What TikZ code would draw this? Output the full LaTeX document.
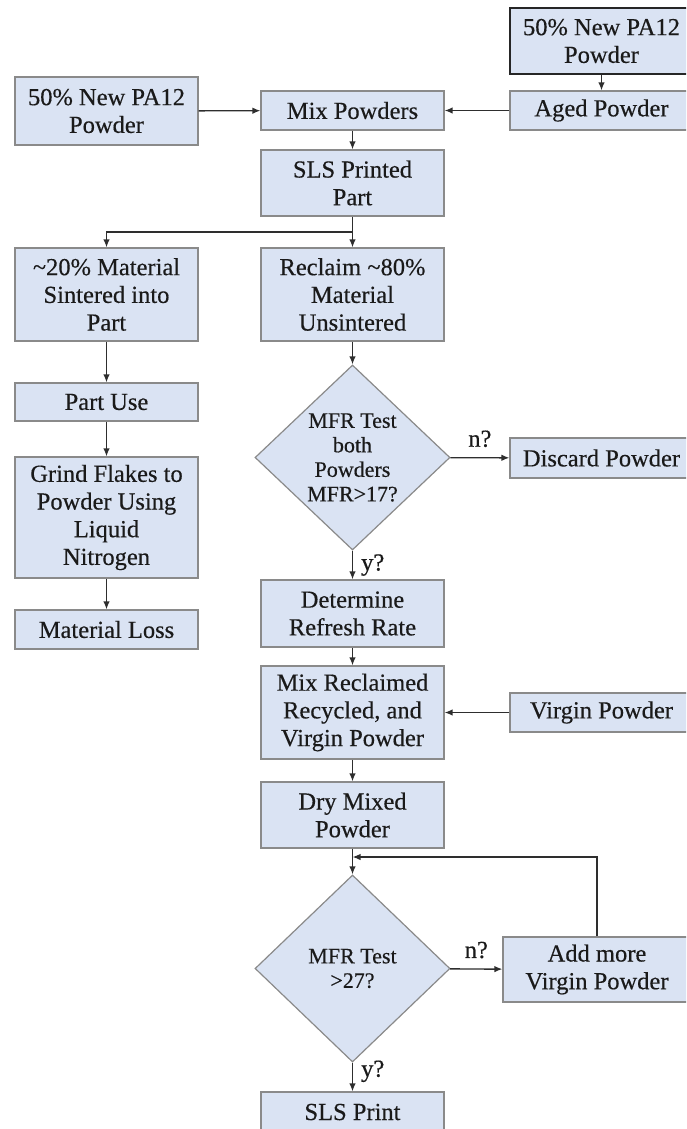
\documentclass[tikz,border=0pt]{standalone}
\usepackage{fontspec}
\setmainfont{Liberation Serif}[FakeBold=0.4]
\usepackage{tikz}
\usetikzlibrary{arrows.meta}
\usetikzlibrary{shapes.geometric}

\definecolor{cajafondo}{HTML}{DAE3F3}
\definecolor{cajaborde}{HTML}{8A8A8A}
\definecolor{flecha}{HTML}{2E2E2E}
\definecolor{texto}{HTML}{1A1A1A}

\tikzset{
  caja/.style={draw=cajaborde, fill=cajafondo, line width=1.2pt, inner sep=0pt, minimum width=183pt, align=center, text=texto, font=\fontsize{24.5}{27.7}\selectfont},
  rombo/.style={diamond, draw=cajaborde, fill=cajafondo, line width=1.2pt, inner sep=0pt, minimum width=195pt, align=center, text=texto, font=\fontsize{22}{24.5}\selectfont},
  flujo/.style={-{Latex[length=8pt,width=6.5pt]}, draw=flecha, line width=1.4pt},
  etiq/.style={text=texto, font=\fontsize{24.5}{27.7}\selectfont, inner sep=2pt}
}

\begin{document}
\begin{tikzpicture}[x=1pt, y=-1pt]
  \useasboundingbox (0,0) rectangle (686,1129);
  \clip (0,0) rectangle (686,1129);
  \fill [white] (0,0) rectangle (686,1129); % fondo
  % fila superior
  \node [caja, minimum height=66pt, draw=black!85] (nuevoder) at (601.5,41) {50\% New PA12\\Powder};
  \node [caja, minimum height=68pt] (nuevoizq) at (106.5,111) {50\% New PA12\\Powder};
  \node [caja, minimum height=39pt] (mezcla) at (352.5,110.5) {Mix Powders};
  \node [caja, minimum height=39pt] (envejecido) at (601.5,110.5) {Aged Powder};
  \node [caja, minimum height=66pt] (impreso) at (352.5,183) {SLS Printed\\Part};
  \coordinate (bifurca) at (352.5,232); % punto de division
  % columna izquierda
  \node [caja, minimum height=93pt] (sinter) at (106.5,294.5) {\textasciitilde 20\% Material\\Sintered into\\Part};
  \node [caja, minimum height=38pt] (uso) at (106.5,402) {Part Use};
  \node [caja, minimum height=121pt] (molido) at (106.5,517.5) {Grind Flakes to\\Powder Using\\Liquid\\Nitrogen};
  \node [caja, minimum height=39pt] (perdida) at (106.5,629.5) {Material Loss};
  % columna central
  \node [caja, minimum height=93pt] (reclamo) at (352.5,294.5) {Reclaim \textasciitilde 80\%\\Material\\Unsintered};
  \node [rombo, minimum height=185pt] (prueba1) at (352.5,457.5) {MFR Test\\both\\Powders\\MFR>17?};
  \node [caja, minimum height=40pt] (descarte) at (601.5,458) {Discard Powder};
  \node [caja, minimum height=67pt] (tasa) at (352.5,613.5) {Determine\\Refresh Rate};
  \node [caja, minimum height=93pt] (mezclar) at (352.5,712.5) {Mix Reclaimed\\Recycled, and\\Virgin Powder};
  \node [caja, minimum height=39pt] (virgen) at (601.5,712.5) {Virgin Powder};
  \node [caja, minimum height=66pt] (seco) at (352.5,815) {Dry Mixed\\Powder};
  \coordinate (retorno) at (352.5,857); % llegada del lazo
  \node [rombo, minimum height=187pt] (prueba2) at (352.5,968.5) {MFR Test\\>27?};
  \node [caja, minimum width=188pt, minimum height=65pt] (mas) at (597,969.5) {Add more\\Virgin Powder};
  \node [caja, minimum height=40pt] (imprimir) at (352.5,1112) {SLS Print};
  % flechas
  \draw [flujo] (nuevoder) -- (envejecido);
  \draw [flujo] (nuevoizq) -- (mezcla);
  \draw [flujo] (envejecido) -- (mezcla);
  \draw [flujo] (mezcla) -- (impreso);
  \draw [flujo] (impreso) -- (reclamo);
  \draw [flujo] (bifurca) -| (sinter); % rama izquierda
  \draw [flujo] (sinter) -- (uso);
  \draw [flujo] (uso) -- (molido);
  \draw [flujo] (molido) -- (perdida);
  \draw [flujo] (reclamo) -- (prueba1);
  \draw [flujo] (prueba1) -- (descarte) node [etiq, midway, above=8pt] {n?};
  \draw [flujo] (prueba1) -- (tasa) node [etiq, midway, right=6pt] {y?};
  \draw [flujo] (tasa) -- (mezclar);
  \draw [flujo] (virgen) -- (mezclar);
  \draw [flujo] (mezclar) -- (seco);
  \draw [flujo] (seco) -- (prueba2);
  \draw [flujo] (prueba2) -- (mas) node [etiq, midway, above=8pt] {n?};
  \draw [flujo] (mas) |- (retorno); % lazo de vuelta
  \draw [flujo] (prueba2) -- (imprimir) node [etiq, pos=0.3, right=6pt] {y?};
\end{tikzpicture}
\end{document}
